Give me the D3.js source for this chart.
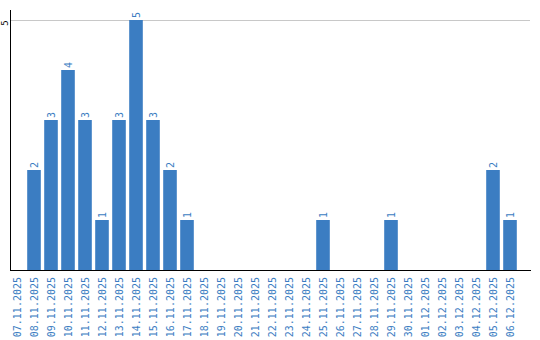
<!DOCTYPE html>
<html><head><meta charset="utf-8">
<script src="https://cdn.jsdelivr.net/npm/d3@7"></script>
<style>body{margin:0;background:#fff}svg{display:block}</style>
</head><body>
<svg id="c" width="540" height="340"></svg>
<script>
const categories = ["07.11.2025","08.11.2025","09.11.2025","10.11.2025","11.11.2025","12.11.2025","13.11.2025","14.11.2025","15.11.2025","16.11.2025","17.11.2025","18.11.2025","19.11.2025","20.11.2025","21.11.2025","22.11.2025","23.11.2025","24.11.2025","25.11.2025","26.11.2025","27.11.2025","28.11.2025","29.11.2025","30.11.2025","01.12.2025","02.12.2025","03.12.2025","04.12.2025","05.12.2025","06.12.2025"];
const values = [0,2,3,4,3,1,3,5,3,2,1,0,0,0,0,0,0,0,1,0,0,0,1,0,0,0,0,0,2,1];
const yTicks = [5];

const svg = d3.select("#c");
const x = d3.scaleBand().domain(categories).range([8.5, 518.5]).paddingInner(0.2).paddingOuter(0.1);
const y = d3.scaleLinear().domain([0, 5]).range([270, 20]);
const blue = "#3b7dc2";

svg.append("g").selectAll("line").data(yTicks).join("line")
  .attr("x1", 11).attr("x2", 530)
  .attr("y1", d => y(d) + 0.5).attr("y2", d => y(d) + 0.5)
  .attr("stroke", "#c8c8c8").attr("stroke-width", 1);

svg.append("g").selectAll("rect").data(categories).join("rect")
  .attr("x", d => x(d)).attr("width", x.bandwidth())
  .attr("y", (d, i) => y(values[i])).attr("height", (d, i) => 270 - y(values[i]))
  .attr("fill", blue);

svg.append("g").selectAll("text").data(categories.filter((d, i) => values[i] > 0)).join("text")
  .attr("transform", d => `translate(${x(d) + x.bandwidth() / 2 + 3.5},${y(values[categories.indexOf(d)]) - 2}) rotate(-90)`)
  .attr("font-family", "DejaVu Sans Mono, monospace").attr("font-size", 10)
  .attr("fill", blue)
  .text(d => values[categories.indexOf(d)]);

svg.append("line").attr("x1", 10.5).attr("x2", 10.5).attr("y1", 10).attr("y2", 270.5).attr("stroke", "#000");
svg.append("line").attr("x1", 10).attr("x2", 531).attr("y1", 270.5).attr("y2", 270.5).attr("stroke", "#000");

svg.append("g").selectAll("text").data(yTicks).join("text")
  .attr("transform", d => `translate(7.5,${y(d) + 3}) rotate(-90)`)
  .attr("text-anchor", "middle")
  .attr("font-family", "DejaVu Sans Mono, monospace").attr("font-size", 9)
  .attr("fill", "#000")
  .text(d => d);

svg.append("g").selectAll("text").data(categories).join("text")
  .attr("transform", d => `translate(${x(d) + x.bandwidth() / 2 + 3.5},277) rotate(-90)`)
  .attr("text-anchor", "end")
  .attr("font-family", "DejaVu Sans Mono, monospace").attr("font-size", 10)
  .attr("fill", blue)
  .text(d => d);
</script>
</body></html>
